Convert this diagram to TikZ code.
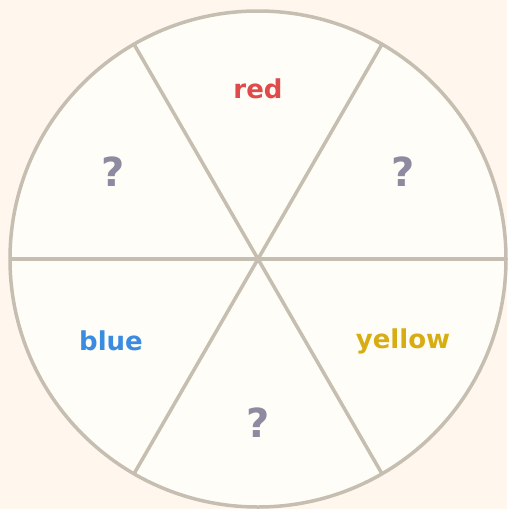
\documentclass[tikz,border=0pt]{standalone}
\usepackage{fontspec}
\setmainfont{DejaVu Sans}
\usetikzlibrary{calc}
\definecolor{bg}{HTML}{FFF7EE}
\definecolor{disk}{HTML}{FFFDF7}
\definecolor{rim}{HTML}{C6BEB0}
\definecolor{cred}{HTML}{E04A4A}
\definecolor{cblue}{HTML}{3A8CE0}
\definecolor{cyellow}{HTML}{D8AD12}
\definecolor{cgray}{HTML}{8E8AA0}
\begin{document}
\begin{tikzpicture}[x=1pt,y=-1pt,
  lab/.style={font=\bfseries\fontsize{26}{30}\selectfont, inner sep=0pt, anchor=center},
  qlab/.style={font=\bfseries\fontsize{40}{44}\selectfont, inner sep=0pt, anchor=center, text=cgray},
  rimline/.style={draw=rim, line width=3.5pt}]
\fill[bg] (0,0) rectangle (507,509);
\useasboundingbox (0,0) rectangle (507,509);
\coordinate (c) at (258,259);
\fill[disk] (c) circle (248);
\foreach \a in {0,60,120} {
  \draw[rimline] ($(c)+(\a:248)$) -- ($(c)+(\a+180:248)$);
}
\draw[rimline] (c) circle (248);
\node[lab, text=cred] (r) at ($(c)+(0,-170)$) {red};
\node[qlab] (q1) at ($(c)+(-145,-87)$) {?};
\node[qlab] (q2) at ($(c)+(145,-87)$) {?};
\node[lab, text=cblue] (b) at ($(c)+(-147,82)$) {blue};
\node[lab, text=cyellow] (y) at ($(c)+(145,82)$) {yellow};
\node[qlab] (q3) at ($(c)+(0,164)$) {?};
\end{tikzpicture}
\end{document}
